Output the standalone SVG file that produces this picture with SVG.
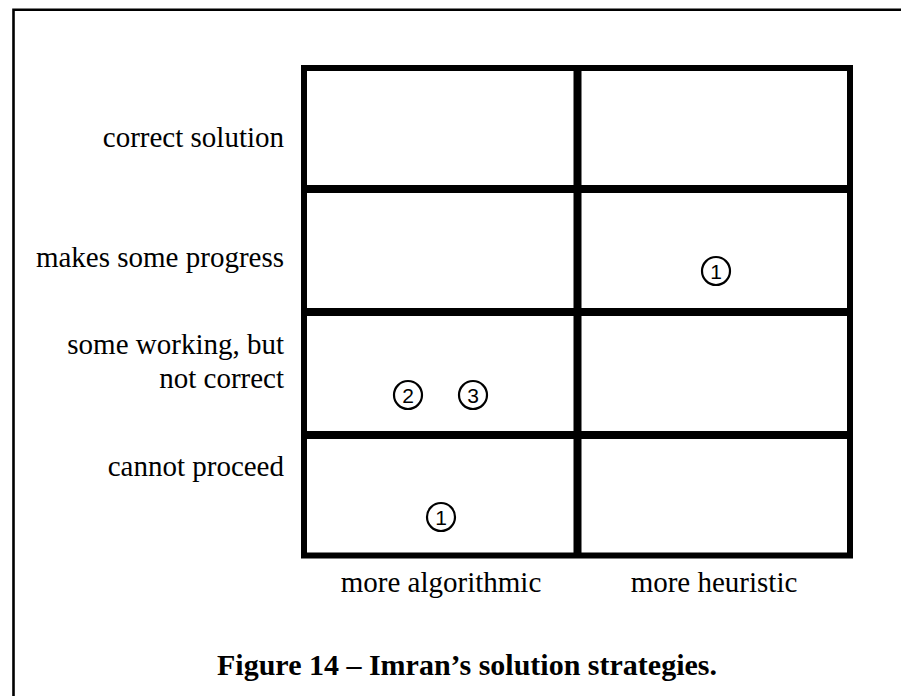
<svg xmlns="http://www.w3.org/2000/svg" width="901" height="696" viewBox="0 0 901 696">
<style>
.lbl{font-family:"Liberation Serif","Times New Roman",serif;font-size:29px;fill:#000}
.cap{font-family:"Liberation Serif","Times New Roman",serif;font-size:30px;font-weight:bold;fill:#000}
.num{font-family:"Liberation Sans",Arial,sans-serif;font-size:21px;fill:#000;text-anchor:middle}
.ring{fill:none;stroke:#000;stroke-width:2.2}
.outer{fill:none;stroke:#000;stroke-width:6}
.inner{stroke:#000;stroke-width:8}
</style>
<rect width="901" height="696" fill="#fff"/>
<path d="M13.5,696 V9.8 H901" fill="none" stroke="#000" stroke-width="2.6"/>
<g id="grid">
<rect class="outer" x="304" y="68" width="546" height="487.5"/>
<line class="inner" x1="577.5" y1="68" x2="577.5" y2="555.5"/>
<line class="inner" x1="304" y1="189" x2="850" y2="189"/>
<line class="inner" x1="304" y1="312" x2="850" y2="312"/>
<line class="inner" x1="304" y1="435" x2="850" y2="435"/>
</g>
<g id="row-labels" text-anchor="end">
<text class="lbl" x="284" y="147">correct solution</text>
<text class="lbl" x="284" y="267">makes some progress</text>
<text class="lbl" x="284" y="354">some working, but</text>
<text class="lbl" x="284" y="388">not correct</text>
<text class="lbl" x="284" y="476">cannot proceed</text>
</g>
<g id="col-labels" text-anchor="middle">
<text class="lbl" x="441" y="592">more algorithmic</text>
<text class="lbl" x="714" y="592">more heuristic</text>
</g>
<g id="m1-heuristic"><circle class="ring" cx="716" cy="271" r="14"/><text class="num" x="716" y="278.5">1</text></g>
<g id="m2-algorithmic"><circle class="ring" cx="408" cy="395" r="14"/><text class="num" x="408" y="402.5">2</text></g>
<g id="m3-algorithmic"><circle class="ring" cx="473" cy="395" r="14"/><text class="num" x="473" y="402.5">3</text></g>
<g id="m1-algorithmic"><circle class="ring" cx="441" cy="517" r="14"/><text class="num" x="441" y="524.5">1</text></g>
<text class="cap" x="467" y="675" text-anchor="middle">Figure 14 – Imran’s solution strategies.</text>
</svg>
